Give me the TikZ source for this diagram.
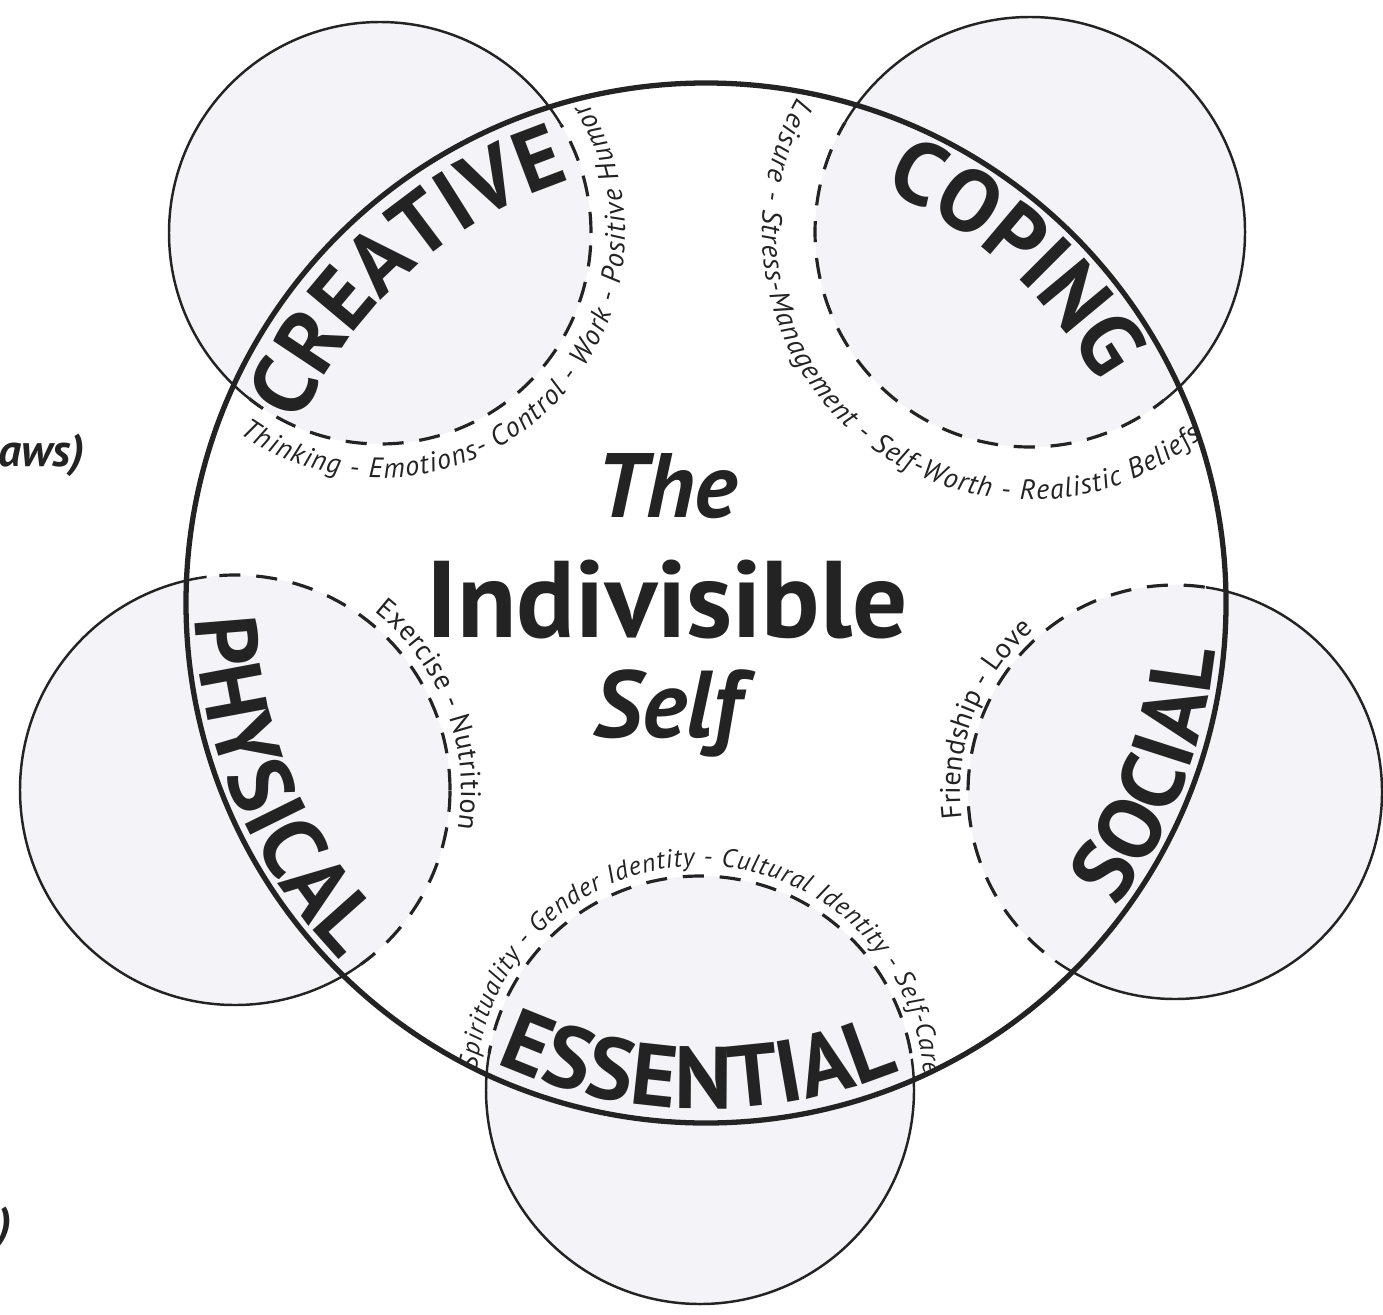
\documentclass[tikz,border=0pt]{standalone}
\usepackage{fontspec}
\setmainfont{PT Sans}
\usetikzlibrary{decorations.text}
\definecolor{ink}{RGB}{35,35,35}
\definecolor{ringfill}{RGB}{244,244,248}
\newcommand{\wordfont}{\fontsize{25}{25}\selectfont\bfseries}
\newcommand{\itemfont}{\fontsize{8}{8}\selectfont\itshape}
\newcommand{\itemfontup}{\fontsize{8}{8}\selectfont}
\tikzset{
  bigring/.style={draw=ink, line width=1.5pt},
  solidring/.style={draw=ink, line width=0.7pt},
  dashring/.style={draw=ink, line width=0.9pt, dash pattern=on 6pt off 4.5pt},
  arctext/.style={decorate, decoration={text along path, text align={fit to path}, text color=ink, text={#1}}},
  wordtext/.style={decorate, decoration={text along path, text align=center, text color=ink, text={|\wordfont|#1}}},
  titletext/.style={anchor=base, text=ink, font=\fontsize{#1}{#1}\selectfont\bfseries},
  titleslant/.style={anchor=base, text=ink, font=\fontsize{#1}{#1}\selectfont\bfseries\itshape},
  sidenote/.style={anchor=west, inner sep=0pt, text=ink, font=\fontsize{13}{13}\selectfont\bfseries\itshape},
}

\begin{document}
\begin{tikzpicture}[x=0.01cm, y=0.01cm]
  \useasboundingbox (0,0) rectangle (1383,1314);
  \coordinate (midC) at (706,711);
  \coordinate (creC) at (380,1081);
  \coordinate (copC) at (1030,1082);
  \coordinate (phyC) at (235,524);
  \coordinate (socC) at (1175,522);
  \coordinate (essC) at (700,224);

  % the five small rings
  \foreach \c/\r in {creC/211, copC/215, phyC/215, socC/207, essC/214}
    \fill[ringfill] (\c) circle[radius=\r];
  \begin{scope}
    \clip (midC) circle[radius=500];
    \foreach \c/\r in {creC/211, copC/215, phyC/215, socC/207, essC/214}
      \draw[dashring] (\c) circle[radius=\r];
  \end{scope}
  \begin{scope}[even odd rule]
    \clip (-100,-100) rectangle (1500,1450) (midC) circle[radius=500];
    \foreach \c/\r in {creC/211, copC/215, phyC/215, socC/207, essC/214}
      \draw[solidring] (\c) circle[radius=\r];
  \end{scope}
  \draw[bigring] (midC) circle[radius=520];

  % names on the big ring
  \path[wordtext=CREATIVE] (midC) ++(172:444) arc[start angle=172, end angle=92, radius=444];
  \path[wordtext=COPING] (midC) ++(88:450) arc[start angle=88, end angle=8, radius=450];
  \path[wordtext=PHYSICAL] (midC) ++(163:511) arc[start angle=163, end angle=243, radius=511];
  \path[wordtext=SOCIAL] (midC) ++(299:511) arc[start angle=299, end angle=379, radius=511];
  \path[wordtext=ESSENTIAL] (midC) ++(229:506) arc[start angle=229, end angle=309, radius=506];

  % factors along the dashed arcs
  \path[arctext={|\itemfont|Thinking - Emotions- Control - Work - Positive Humor}] (creC) ++(235:245) arc[start angle=235, end angle=392, radius=245];
  \path[arctext={|\itemfont|Leisure - Stress-Management - Self-Worth - Realistic Beliefs}] (copC) ++(150:268) arc[start angle=150, end angle=310, radius=268];
  \path[arctext={|\itemfontup|Exercise - Nutrition}] (phyC) ++(52:226) arc[start angle=52, end angle=-10, radius=226];
  \path[arctext={|\itemfontup|Friendship - Love}] (socC) ++(187:215) arc[start angle=187, end angle=131, radius=215];
  \path[arctext={|\fontsize{7.4}{7.4}\selectfont\itshape|Spirituality - Gender Identity - Cultural Identity - Self-Care}] (essC) ++(175:224) arc[start angle=175, end angle=4, radius=224];

  % centre title
  \node[titleslant=26] (titleThe) at (667,797) {The};
  \node[titletext=31] (titleIndiv) at (667,677) {Indivisible};
  \node[titleslant=27] (titleSelf) at (667,577) {Self};

  % cut-off words at the left margin
  \node[sidenote] (lawsnote) at (-2,859) {aws)};
  \node[sidenote] (parennote) at (-3,86) {)};
\end{tikzpicture}
\end{document}
